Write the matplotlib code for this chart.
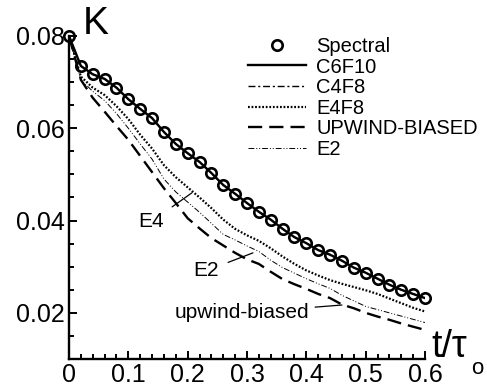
import matplotlib
matplotlib.use("Agg")
import matplotlib.pyplot as plt
import numpy as np
from matplotlib.ticker import MultipleLocator, FixedLocator, FixedFormatter

plt.rcParams['font.family'] = ['Liberation Sans', 'DejaVu Sans']

t = np.arange(31) * 0.02

spectral = [0.0800, 0.0735, 0.0717, 0.0707, 0.0688, 0.0663, 0.0642, 0.0622, 0.0592, 0.0566,
            0.0546, 0.0527, 0.0503, 0.0477, 0.0458, 0.0438, 0.0419, 0.0402, 0.0382, 0.0364,
            0.0351, 0.0336, 0.0326, 0.0313, 0.0298, 0.0287, 0.0274, 0.0261, 0.0250, 0.0241,
            0.0232]
c6f10 = list(spectral)
c4f8 = list(spectral)
e4f8 = [0.0800, 0.0712, 0.0688, 0.0672, 0.0648, 0.0620, 0.0586, 0.0556, 0.0520, 0.0494,
        0.0472, 0.0450, 0.0427, 0.0402, 0.0382, 0.0368, 0.0356, 0.0340, 0.0322, 0.0306,
        0.0292, 0.0281, 0.0271, 0.0263, 0.0256, 0.0249, 0.0241, 0.0231, 0.0221, 0.0211,
        0.0203]
upwind = [0.0800, 0.0705, 0.0666, 0.0636, 0.0605, 0.0575, 0.0540, 0.0505, 0.0470, 0.0438,
          0.0405, 0.0383, 0.0362, 0.0346, 0.0330, 0.0316, 0.0306, 0.0289, 0.0273, 0.0262,
          0.0252, 0.0241, 0.0232, 0.0218, 0.0210, 0.0200, 0.0192, 0.0185, 0.0177, 0.0170,
          0.0163]
e2 = [0.0800, 0.0705, 0.0680, 0.0660, 0.0632, 0.0600, 0.0566, 0.0533, 0.0490, 0.0462,
      0.0440, 0.0418, 0.0394, 0.0370, 0.0358, 0.0345, 0.0333, 0.0314, 0.0298, 0.0286,
      0.0274, 0.0263, 0.0253, 0.0238, 0.0226, 0.0214, 0.0207, 0.0200, 0.0193, 0.0186,
      0.0179]

xticks = [0, 0.1, 0.2, 0.3, 0.4, 0.5, 0.6]
xticklabels = ['0', '0.1', '0.2', '0.3', '0.4', '0.5', '0.6']
yticks = [0.02, 0.04, 0.06, 0.08]
yticklabels = ['0.02', '0.04', '0.06', '0.08']

fig = plt.figure(figsize=(4.87, 3.89), dpi=100)
ax = fig.add_axes([0.1417, 0.0771, 0.7310, 0.8304])

ax.plot(t, spectral, 'o', ms=7.5, mfc='none', mec='black', mew=1.9, clip_on=False, label='Spectral')
ax.plot(t, c6f10, '-', color='black', lw=1.7, label='C6F10')
ax.plot(t, c4f8, color='black', lw=1.0, dashes=(5, 2, 1.5, 2), label='C4F8')
ax.plot(t, e4f8, color='black', lw=1.6, dashes=(0.8, 0.8), label='E4F8')
ax.plot(t, upwind, color='black', lw=1.7, dashes=(6, 3), label='UPWIND-BIASED')
ax.plot(t, e2, color='black', lw=0.7, dashes=(6, 2, 1, 2, 1, 2), label='E2')

ax.set_xlim(0, 0.6)
ax.set_ylim(0.01, 0.08)
for s in ['top', 'right']:
    ax.spines[s].set_visible(False)
for s in ['left', 'bottom']:
    ax.spines[s].set_linewidth(1.7)

ax.xaxis.set_major_locator(FixedLocator(xticks))
ax.xaxis.set_major_formatter(FixedFormatter(xticklabels))
ax.xaxis.set_minor_locator(MultipleLocator(0.02))
ax.yaxis.set_major_locator(FixedLocator(yticks))
ax.yaxis.set_major_formatter(FixedFormatter(yticklabels))
ax.yaxis.set_minor_locator(MultipleLocator(0.005))
ax.tick_params(which='both', direction='in', width=1.4, labelsize=18, pad=3)
ax.tick_params(which='major', length=6)
ax.tick_params(which='minor', length=3.5)

leg = ax.legend(loc='upper left', bbox_to_anchor=(0.479, 1.022), frameon=False, fontsize=14.5,
                handlelength=2.9, handletextpad=0.5, labelspacing=0.08, borderaxespad=0)

fig.text(0.170, 0.985, 'K', fontsize=28, ha='left', va='top')
fig.text(0.886, 0.083, 't/τ', fontsize=27, ha='left', va='baseline')
fig.text(0.968, 0.053, 'o', fontsize=16, ha='left', va='center')

ax.annotate('E4', xy=(0.207, 0.0460), xytext=(0.138, 0.0397), fontsize=15,
            ha='center', va='center', arrowprops=dict(arrowstyle='-', color='black', lw=0.9, shrinkA=5, shrinkB=0))
ax.annotate('E2', xy=(0.310, 0.0330), xytext=(0.231, 0.0291), fontsize=15,
            ha='center', va='center', arrowprops=dict(arrowstyle='-', color='black', lw=0.9, shrinkA=5, shrinkB=0))
ax.annotate('upwind-biased', xy=(0.46, 0.0217), xytext=(0.292, 0.0200), fontsize=15,
            ha='center', va='center', arrowprops=dict(arrowstyle='-', color='black', lw=0.9, shrinkA=2, shrinkB=0))

fig.savefig('out.png', dpi=100)
